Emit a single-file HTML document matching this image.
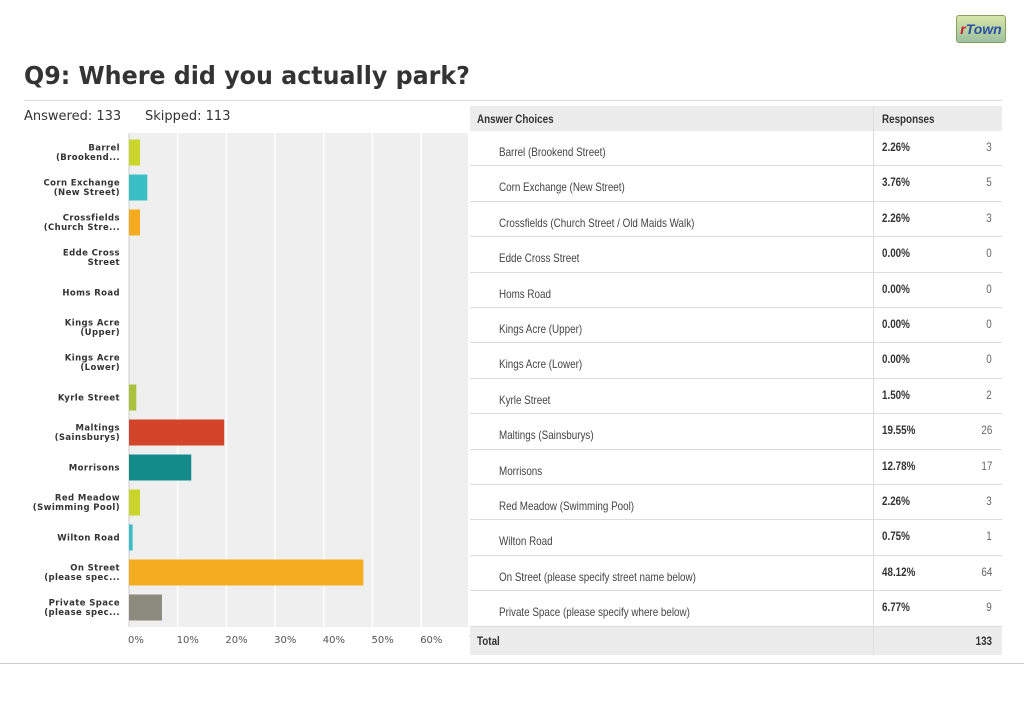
<!DOCTYPE html>
<html><head><meta charset="utf-8"><style>
body{margin:0;width:1024px;height:709px;background:#fff;position:relative;overflow:hidden;font-family:"Liberation Sans",sans-serif}
.abs{position:absolute}
.tbl{font-family:"Liberation Sans",sans-serif;font-size:12px;color:#444}
.nar{display:inline-block;transform:scaleX(0.82);transform-origin:left top;white-space:nowrap}
.narr{display:inline-block;transform:scaleX(0.82);transform-origin:right top;white-space:nowrap}
</style></head><body>
<div class="abs" style="left:956px;top:15px;width:48px;height:26px;border:1px solid #8aa060;border-radius:3px;background:linear-gradient(#d6e6a8,#9cc0a0);font:italic bold 14px 'Liberation Sans',sans-serif;color:#2a4fa0;text-align:center;line-height:26px"><span style="color:#c0202a">r</span>Town</div>
<div class="abs" style="left:24px;top:61px;font:bold 25px 'DejaVu Sans',sans-serif;color:#333;transform:scaleX(0.95);transform-origin:left top;white-space:nowrap">Q9: Where did you actually park?</div>
<div class="abs" style="left:24px;top:100px;width:978px;height:1px;background:#ddd"></div>
<div class="abs" style="left:24px;top:109px;font:13px 'DejaVu Sans',sans-serif;color:#333">Answered: 133</div>
<div class="abs" style="left:145px;top:109px;font:13px 'DejaVu Sans',sans-serif;color:#333">Skipped: 113</div>
<div class="abs" style="left:0;top:663px;width:1024px;height:1px;background:#ccc"></div>
<svg class="abs" style="left:0;top:0" width="1024" height="709" id="chart"></svg>
<div id="table"></div>
<script>
const labels=[["Barrel","(Brookend..."],["Corn Exchange","(New Street)"],["Crossfields","(Church Stre..."],["Edde Cross","Street"],["Homs Road"],["Kings Acre","(Upper)"],["Kings Acre","(Lower)"],["Kyrle Street"],["Maltings","(Sainsburys)"],["Morrisons"],["Red Meadow","(Swimming Pool)"],["Wilton Road"],["On Street","(please spec..."],["Private Space","(please spec..."]];
const fullNames=["Barrel (Brookend Street)","Corn Exchange (New Street)","Crossfields (Church Street / Old Maids Walk)","Edde Cross Street","Homs Road","Kings Acre (Upper)","Kings Acre (Lower)","Kyrle Street","Maltings (Sainsburys)","Morrisons","Red Meadow (Swimming Pool)","Wilton Road","On Street (please specify street name below)","Private Space (please specify where below)"];
const percents=[2.26,3.76,2.26,0,0,0,0,1.50,19.55,12.78,2.26,0.75,48.12,6.77];
const counts=[3,5,3,0,0,0,0,2,26,17,3,1,64,9];
const ticks=[0,10,20,30,40,50,60,70];
const colors=["#c9d52b","#3bbfc7","#f6ab1e","#c9d52b","#3bbfc7","#f6ab1e","#c9d52b","#a8c23e","#d2452a","#138b8b","#c9d52b","#3bbfc7","#f6ac1f","#8b8b80"];
const total=133;
const NS="http://www.w3.org/2000/svg";
const svg=document.getElementById('chart');
const x0=129,pxPer=4.87,yTop=133,yBot=627,rowH=(yBot-yTop-4)/percents.length;
const X=v=>x0+v*pxPer, Y=i=>yTop+2+rowH*(i+0.5);
function el(t,a){const e=document.createElementNS(NS,t);for(const k in a)e.setAttribute(k,a[k]);svg.appendChild(e);return e;}
let bg=el('rect',{x:x0,y:yTop,width:468-x0,height:yBot-yTop,fill:'#efefef'});


ticks.forEach(t=>{
 if(t>0&&X(t)<468){let g=el('line',{x1:X(t),x2:X(t),y1:yTop,y2:yBot,stroke:'#fff','stroke-width':1.5});
 
 }
 let tx=el('text',{x:X(t)-1,y:643,'font-size':10,fill:'#555','font-family':'DejaVu Sans,sans-serif'});
 tx.textContent=t+'%';
 
 
});
el('line',{x1:x0,x2:x0,y1:yTop,y2:yBot,stroke:'#ccc'});
percents.forEach((p,i)=>{
 if(p>0){let r=el('rect',{x:x0,y:Y(i)-13,width:X(p)-x0,height:26,fill:colors[i]});
 
 }
 const ls=labels[i];
 ls.forEach((s,j)=>{
  let t=el('text',{x:120,y:Y(i)+(ls.length==1?3:-2+j*9.5),'text-anchor':'end','font-size':8.5,'font-weight':'bold',fill:'#333','font-family':'DejaVu Sans,sans-serif','letter-spacing':0.4});
  t.textContent=s;
  
  
 });
});
const tb=document.getElementById('table');
let h='<div class="abs tbl" style="left:470px;top:106px;width:532px;height:25px;background:#ececec;font-weight:bold;color:#333"><span class="abs nar" style="left:7px;top:6px">Answer Choices</span><span class="abs nar" style="left:412px;top:6px">Responses</span><span class="abs" style="left:403px;top:0;width:1px;height:25px;background:#ddd"></span></div>';
const tTop=131,tRow=35.4;
fullNames.forEach((n,i)=>{
 const y=tTop+i*tRow;
 h+=`<div class="abs tbl" style="left:470px;top:${y}px;width:532px;height:${tRow}px;border-bottom:1px solid #ddd;box-sizing:border-box;background:#fff">
 <span class="abs nar" style="left:29px;top:14px">${n}</span>
 <span class="abs" style="left:403px;top:0;width:1px;height:100%;background:#ddd"></span>
 <span class="abs nar" style="left:412px;top:9px;font-weight:bold;color:#333">${percents[i].toFixed(2)}%</span>
 <span class="abs narr" style="right:10px;top:9px;color:#666">${counts[i]}</span></div>`;
});
h+=`<div class="abs tbl" style="left:470px;top:627px;width:532px;height:28px;background:#ececec;font-weight:bold;color:#333"><span class="abs nar" style="left:7px;top:7px">Total</span><span class="abs" style="left:403px;top:0;width:1px;height:28px;background:#ddd"></span><span class="abs narr" style="right:10px;top:7px">${total}</span></div>`;
tb.innerHTML=h;
</script>
</body></html>
